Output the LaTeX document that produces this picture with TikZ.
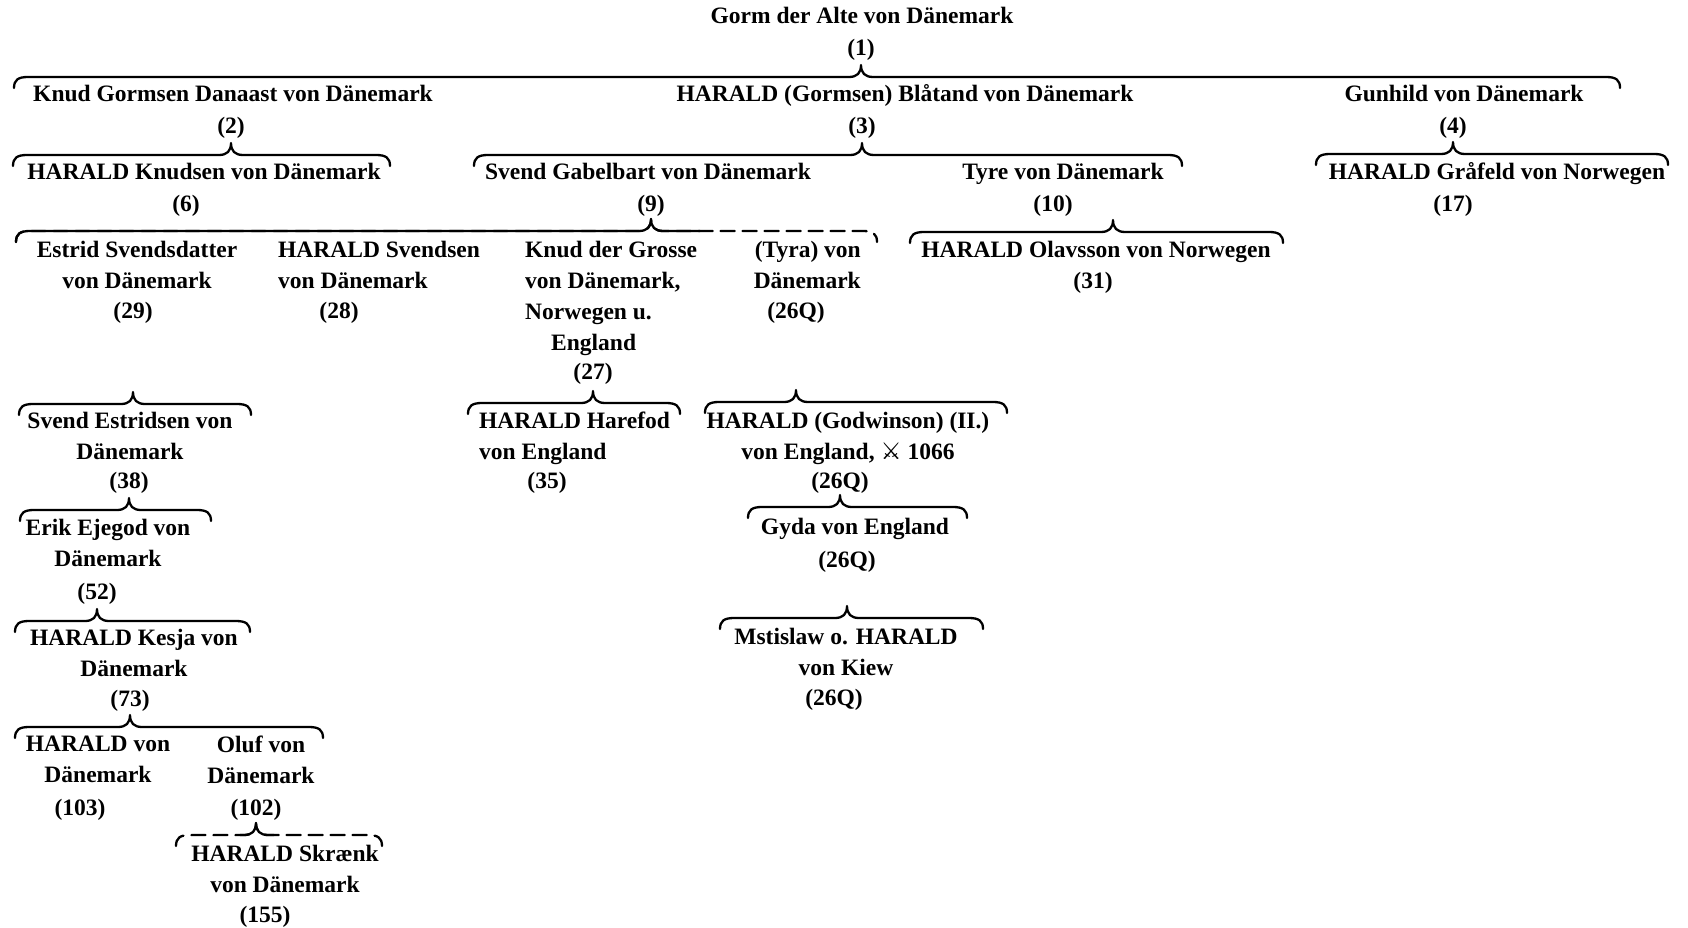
\documentclass[tikz,border=0pt]{standalone}
\usepackage{fontspec}
\setmainfont{Liberation Serif}
\newfontfamily\symfont{DejaVu Sans}
\usetikzlibrary{calc}

\newcommand{\famfont}{\fontsize{23.5}{31}\selectfont\bfseries}

% family brace: [style]{tip}{left x}{right x}{line y}
\newcommand{\famBrace}[5][]{%
  \draw[famline,#1] let \p0 = (#2) in
    (#3,-#5-11) .. controls (#3,-#5-3) and (#3+4,-#5) .. (#3+14,-#5)
    -- (\x0-12,-#5) .. controls (\x0-4,-#5) and (\x0,-#5+4) .. (\x0,-#5+12)
    .. controls (\x0,-#5+4) and (\x0+4,-#5) .. (\x0+12,-#5)
    -- (#4-14,-#5) .. controls (#4-4,-#5) and (#4,-#5-3) .. (#4,-#5-11);
}

\begin{document}
\begin{tikzpicture}[x=1pt, y=1pt,
  famname/.style={font=\famfont, inner sep=0pt, anchor=north, yshift=14pt,
    execute at begin node=\strut, execute at end node=\strut},
  famblock/.style={famname, yshift=-6pt},
  famnum/.style={famname},
  famline/.style={line width=2.3pt, line cap=round, line join=round},
  famdash/.style={dash pattern=on 14pt off 8pt}]

  \useasboundingbox (0,0) rectangle (1688,-928);

  % ================================================================
  % Gorm and his children
  % ================================================================

  \node[famname] (gorm) at (862,-16) {Gorm der Alte von Dänemark};
  \node[famnum] (n1) at (861,-48) {(1)};

  \node[famname] (knud) at (233,-94) {Knud Gormsen Danaast von Dänemark};
  \node[famnum] (n2) at (231,-126) {(2)};
  \node[famname] (blatand) at (905,-94) {HARALD (Gormsen) Blåtand von Dänemark};
  \node[famnum] (n3) at (862,-126) {(3)};
  \node[famname] (gunhild) at (1464,-94) {Gunhild von Dänemark};
  \node[famnum] (n4) at (1453,-126) {(4)};

  % ================================================================
  % Grandchildren
  % ================================================================

  \node[famname] (hknud) at (204,-172) {HARALD Knudsen von Dänemark};
  \node[famnum] (n6) at (186,-204) {(6)};
  \node[famname] (svend) at (648,-172) {Svend Gabelbart von Dänemark};
  \node[famnum] (n9) at (651,-204) {(9)};
  \node[famname] (tyre) at (1063,-172) {Tyre von Dänemark};
  \node[famnum] (n10) at (1053,-204) {(10)};
  \node[famname] (hgraa) at (1497,-172) {HARALD Gråfeld von Norwegen};
  \node[famnum] (n17) at (1453,-204) {(17)};

  % ================================================================
  % Children of Svend and of Tyre
  % ================================================================

  \node[famblock, align=center] (estrid) at (137,-249)
    {Estrid Svendsdatter\\von Dänemark};
  \node[famnum] (n29) at (133,-311) {(29)};
  \node[famblock, anchor=north west, align=left] (hsvend) at (278,-249)
    {HARALD Svendsen\\von Dänemark};
  \node[famnum] (n28) at (339,-311) {(28)};
  \node[famblock, anchor=north west, align=left] (knudg) at (525,-249)
    {Knud der Grosse\\von Dänemark,\\Norwegen u.\\\hspace*{26pt}England};
  \node[famnum] (n27) at (593,-372) {(27)};
  \node[famblock, anchor=north east, align=right] (tyra) at (861,-249)
    {(Tyra) von\\Dänemark};
  \node[famnum] (n26a) at (796,-311) {(26Q)};
  \node[famname] (holav) at (1096,-250) {HARALD Olavsson von Norwegen};
  \node[famnum] (n31) at (1093,-281) {(31)};

  % ================================================================
  % Next generations
  % ================================================================

  \node[famblock, align=center] (sestr) at (130,-420)
    {Svend Estridsen von\\Dänemark};
  \node[famnum] (n38) at (129,-481) {(38)};
  \node[famblock, anchor=north west, align=left] (hhare) at (479,-420)
    {HARALD Harefod\\von England};
  \node[famnum] (n35) at (547,-481) {(35)};
  \node[famblock, align=center] (hgod) at (848,-420)
    {HARALD (Godwinson) (II.)\\von England, {\symfont ⚔} 1066};
  \node[famnum] (n26b) at (840,-481) {(26Q)};

  \node[famblock, align=center] (erik) at (108,-527)
    {Erik Ejegod von\\Dänemark};
  \node[famnum] (n52) at (97,-592) {(52)};
  \node[famname] (gyda) at (855,-527) {Gyda von England};
  \node[famnum] (n26c) at (847,-560) {(26Q)};

  \node[famblock, align=center] (hkesja) at (134,-637)
    {HARALD Kesja von\\Dänemark};
  \node[famnum] (n73) at (130,-699) {(73)};
  \node[famblock, align=center] (mstis) at (846,-636)
    {Mstislaw o. HARALD\\von Kiew};
  \node[famnum] (n26d) at (834,-698) {(26Q)};

  \node[famblock, align=center] (hvon) at (98,-744) {HARALD von\\Dänemark};
  \node[famnum] (n103) at (80,-808) {(103)};
  \node[famblock, align=center] (oluf) at (261,-744) {Oluf von\\Dänemark};
  \node[famnum] (n102) at (256,-808) {(102)};

  \node[famblock, align=center] (hskr) at (285,-853)
    {HARALD Skrænk\\von Dänemark};
  \node[famnum] (n155) at (265,-915) {(155)};

  % ================================================================
  % Braces
  % ================================================================

  \famBrace{n1}{14}{1620}{77}
  \famBrace{n2}{13}{390}{155}
  \famBrace{n3}{474}{1182}{155}
  \famBrace{n4}{1316}{1668}{154}

  % --- Svend: solid up to (Tyra), then dashed ---
  \begin{scope}
    \clip (0,-190) rectangle (700,-260);
    \famBrace{n9}{16}{877}{231}
  \end{scope}
  \famBrace[famdash]{n9}{16}{877}{231}
  \famBrace{$(n10)+(60,0)$}{910}{1283}{232}

  \famBrace{n29}{19}{251}{404}
  \famBrace{n27}{468}{680}{403}
  \famBrace{n26a}{705}{1007}{402}

  \famBrace{n38}{20}{211}{510}
  \famBrace{n26b}{748}{967}{507}

  \famBrace{n52}{15}{250}{621}
  \famBrace{n26c}{720}{983}{618}

  \famBrace{n73}{15}{323}{727}

  % --- Oluf: dashed, with a solid tip ---
  \begin{scope}
    \clip (240,-810) rectangle (274,-840);
    \famBrace{n102}{176}{382}{835}
  \end{scope}
  \famBrace[famdash]{n102}{176}{382}{835}

\end{tikzpicture}
\end{document}
